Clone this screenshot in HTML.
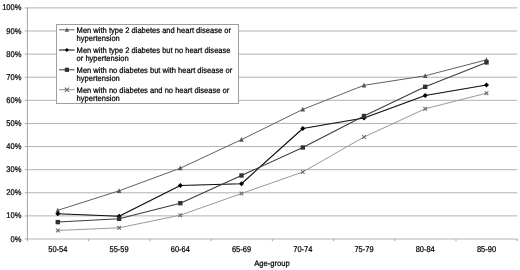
<!DOCTYPE html>
<html><head><meta charset="utf-8"><title>Chart</title>
<style>
html,body{margin:0;padding:0;background:#fff;}
body{width:520px;height:270px;overflow:hidden;}
svg{display:block;}
text{font-family:"Liberation Sans",sans-serif;fill:#000;stroke:#000;stroke-width:0.24px;text-rendering:geometricPrecision;}
</style></head><body>
<svg width="520" height="270" viewBox="0 0 520 270">
<defs><filter id="soft" x="-2%" y="-2%" width="104%" height="104%"><feGaussianBlur stdDeviation="0.32"/></filter><filter id="soft2" x="-2%" y="-2%" width="104%" height="104%"><feGaussianBlur stdDeviation="0.18"/></filter></defs>
<rect width="520" height="270" fill="#ffffff"/>
<g filter="url(#soft2)">
<line x1="27.4" y1="215.89" x2="517.2" y2="215.89" stroke="#b2b2b2" stroke-width="1"/>
<line x1="27.4" y1="192.78" x2="517.2" y2="192.78" stroke="#b2b2b2" stroke-width="1"/>
<line x1="27.4" y1="169.67" x2="517.2" y2="169.67" stroke="#b2b2b2" stroke-width="1"/>
<line x1="27.4" y1="146.56" x2="517.2" y2="146.56" stroke="#b2b2b2" stroke-width="1"/>
<line x1="27.4" y1="123.45" x2="517.2" y2="123.45" stroke="#b2b2b2" stroke-width="1"/>
<line x1="27.4" y1="100.34" x2="517.2" y2="100.34" stroke="#b2b2b2" stroke-width="1"/>
<line x1="27.4" y1="77.23" x2="517.2" y2="77.23" stroke="#b2b2b2" stroke-width="1"/>
<line x1="27.4" y1="54.12" x2="517.2" y2="54.12" stroke="#b2b2b2" stroke-width="1"/>
<line x1="27.4" y1="31.01" x2="517.2" y2="31.01" stroke="#b2b2b2" stroke-width="1"/>
<line x1="27.4" y1="7.90" x2="517.2" y2="7.90" stroke="#b2b2b2" stroke-width="1"/>
</g>
<g filter="url(#soft)">
<line x1="27.4" y1="7.9" x2="27.4" y2="239.0" stroke="#a4a4a4" stroke-width="1"/>
<line x1="27.4" y1="239.0" x2="517.2" y2="239.0" stroke="#b2b2b2" stroke-width="1"/>
<line x1="24.799999999999997" y1="239.00" x2="27.4" y2="239.00" stroke="#a6a6a6" stroke-width="1"/>
<line x1="24.799999999999997" y1="215.89" x2="27.4" y2="215.89" stroke="#a6a6a6" stroke-width="1"/>
<line x1="24.799999999999997" y1="192.78" x2="27.4" y2="192.78" stroke="#a6a6a6" stroke-width="1"/>
<line x1="24.799999999999997" y1="169.67" x2="27.4" y2="169.67" stroke="#a6a6a6" stroke-width="1"/>
<line x1="24.799999999999997" y1="146.56" x2="27.4" y2="146.56" stroke="#a6a6a6" stroke-width="1"/>
<line x1="24.799999999999997" y1="123.45" x2="27.4" y2="123.45" stroke="#a6a6a6" stroke-width="1"/>
<line x1="24.799999999999997" y1="100.34" x2="27.4" y2="100.34" stroke="#a6a6a6" stroke-width="1"/>
<line x1="24.799999999999997" y1="77.23" x2="27.4" y2="77.23" stroke="#a6a6a6" stroke-width="1"/>
<line x1="24.799999999999997" y1="54.12" x2="27.4" y2="54.12" stroke="#a6a6a6" stroke-width="1"/>
<line x1="24.799999999999997" y1="31.01" x2="27.4" y2="31.01" stroke="#a6a6a6" stroke-width="1"/>
<line x1="24.799999999999997" y1="7.90" x2="27.4" y2="7.90" stroke="#a6a6a6" stroke-width="1"/>
<line x1="27.40" y1="239.0" x2="27.40" y2="241.2" stroke="#a6a6a6" stroke-width="1"/>
<line x1="88.62" y1="239.0" x2="88.62" y2="241.2" stroke="#a6a6a6" stroke-width="1"/>
<line x1="149.85" y1="239.0" x2="149.85" y2="241.2" stroke="#a6a6a6" stroke-width="1"/>
<line x1="211.08" y1="239.0" x2="211.08" y2="241.2" stroke="#a6a6a6" stroke-width="1"/>
<line x1="272.30" y1="239.0" x2="272.30" y2="241.2" stroke="#a6a6a6" stroke-width="1"/>
<line x1="333.53" y1="239.0" x2="333.53" y2="241.2" stroke="#a6a6a6" stroke-width="1"/>
<line x1="394.75" y1="239.0" x2="394.75" y2="241.2" stroke="#a6a6a6" stroke-width="1"/>
<line x1="455.98" y1="239.0" x2="455.98" y2="241.2" stroke="#a6a6a6" stroke-width="1"/>
<line x1="517.20" y1="239.0" x2="517.20" y2="241.2" stroke="#a6a6a6" stroke-width="1"/>
<text transform="translate(21.40,241.60) scale(0.9050,1)" font-size="8.3" text-anchor="end">0%</text>
<text transform="translate(21.40,218.49) scale(0.9050,1)" font-size="8.3" text-anchor="end">10%</text>
<text transform="translate(21.40,195.38) scale(0.9050,1)" font-size="8.3" text-anchor="end">20%</text>
<text transform="translate(21.40,172.27) scale(0.9050,1)" font-size="8.3" text-anchor="end">30%</text>
<text transform="translate(21.40,149.16) scale(0.9050,1)" font-size="8.3" text-anchor="end">40%</text>
<text transform="translate(21.40,126.05) scale(0.9050,1)" font-size="8.3" text-anchor="end">50%</text>
<text transform="translate(21.40,102.94) scale(0.9050,1)" font-size="8.3" text-anchor="end">60%</text>
<text transform="translate(21.40,79.83) scale(0.9050,1)" font-size="8.3" text-anchor="end">70%</text>
<text transform="translate(21.40,56.72) scale(0.9050,1)" font-size="8.3" text-anchor="end">80%</text>
<text transform="translate(21.40,33.61) scale(0.9050,1)" font-size="8.3" text-anchor="end">90%</text>
<text transform="translate(21.40,10.10) scale(0.9050,1)" font-size="8.3" text-anchor="end">100%</text>
<text transform="translate(57.80,252.30) scale(0.8900,1)" font-size="8.4" text-anchor="middle">50-54</text>
<text transform="translate(119.10,252.30) scale(0.8900,1)" font-size="8.4" text-anchor="middle">55-59</text>
<text transform="translate(180.30,252.30) scale(0.8900,1)" font-size="8.4" text-anchor="middle">60-64</text>
<text transform="translate(241.50,252.30) scale(0.8900,1)" font-size="8.4" text-anchor="middle">65-69</text>
<text transform="translate(302.80,252.30) scale(0.8900,1)" font-size="8.4" text-anchor="middle">70-74</text>
<text transform="translate(364.00,252.30) scale(0.8900,1)" font-size="8.4" text-anchor="middle">75-79</text>
<text transform="translate(425.20,252.30) scale(0.8900,1)" font-size="8.4" text-anchor="middle">80-84</text>
<text transform="translate(486.50,252.30) scale(0.8900,1)" font-size="8.4" text-anchor="middle">85-90</text>
<text transform="translate(272.00,265.70) scale(0.9450,1)" font-size="8.1" text-anchor="middle">Age-group</text>
<polyline points="57.80,210.30 119.10,190.80 180.30,168.20 241.50,139.60 302.80,109.40 364.00,85.30 425.20,75.80 486.50,59.80" fill="none" stroke="#606060" stroke-width="1.0" stroke-linejoin="round"/>
<polyline points="57.80,213.80 119.10,216.20 180.30,185.50 241.50,183.70 302.80,128.50 364.00,118.00 425.20,95.50 486.50,85.00" fill="none" stroke="#0a0a0a" stroke-width="1.15" stroke-linejoin="round"/>
<polyline points="57.80,222.10 119.10,218.80 180.30,203.20 241.50,175.50 302.80,147.50 364.00,116.00 425.20,86.80 486.50,62.40" fill="none" stroke="#3c3c3c" stroke-width="1.05" stroke-linejoin="round"/>
<polyline points="57.80,230.50 119.10,227.80 180.30,215.20 241.50,193.50 302.80,172.00 364.00,137.00 425.20,108.80 486.50,93.20" fill="none" stroke="#929292" stroke-width="0.95" stroke-linejoin="round"/>
<path d="M57.80,207.70 L60.10,212.40 L55.50,212.40 Z" fill="#555555"/>
<path d="M119.10,188.20 L121.40,192.90 L116.80,192.90 Z" fill="#555555"/>
<path d="M180.30,165.60 L182.60,170.30 L178.00,170.30 Z" fill="#555555"/>
<path d="M241.50,137.00 L243.80,141.70 L239.20,141.70 Z" fill="#555555"/>
<path d="M302.80,106.80 L305.10,111.50 L300.50,111.50 Z" fill="#555555"/>
<path d="M364.00,82.70 L366.30,87.40 L361.70,87.40 Z" fill="#555555"/>
<path d="M425.20,73.20 L427.50,77.90 L422.90,77.90 Z" fill="#555555"/>
<path d="M486.50,57.20 L488.80,61.90 L484.20,61.90 Z" fill="#555555"/>
<path d="M57.80,211.30 L60.30,213.80 L57.80,216.30 L55.30,213.80 Z" fill="#000000"/>
<path d="M119.10,213.70 L121.60,216.20 L119.10,218.70 L116.60,216.20 Z" fill="#000000"/>
<path d="M180.30,183.00 L182.80,185.50 L180.30,188.00 L177.80,185.50 Z" fill="#000000"/>
<path d="M241.50,181.20 L244.00,183.70 L241.50,186.20 L239.00,183.70 Z" fill="#000000"/>
<path d="M302.80,126.00 L305.30,128.50 L302.80,131.00 L300.30,128.50 Z" fill="#000000"/>
<path d="M364.00,115.50 L366.50,118.00 L364.00,120.50 L361.50,118.00 Z" fill="#000000"/>
<path d="M425.20,93.00 L427.70,95.50 L425.20,98.00 L422.70,95.50 Z" fill="#000000"/>
<path d="M486.50,82.50 L489.00,85.00 L486.50,87.50 L484.00,85.00 Z" fill="#000000"/>
<rect x="55.60" y="219.90" width="4.40" height="4.40" fill="#333333"/>
<rect x="116.90" y="216.60" width="4.40" height="4.40" fill="#333333"/>
<rect x="178.10" y="201.00" width="4.40" height="4.40" fill="#333333"/>
<rect x="239.30" y="173.30" width="4.40" height="4.40" fill="#333333"/>
<rect x="300.60" y="145.30" width="4.40" height="4.40" fill="#333333"/>
<rect x="361.80" y="113.80" width="4.40" height="4.40" fill="#333333"/>
<rect x="423.00" y="84.60" width="4.40" height="4.40" fill="#333333"/>
<rect x="484.30" y="60.20" width="4.40" height="4.40" fill="#333333"/>
<path d="M56.00,228.70 L59.60,232.30 M56.00,232.30 L59.60,228.70" stroke="#6c6c6c" stroke-width="1.1" fill="none"/>
<path d="M117.30,226.00 L120.90,229.60 M117.30,229.60 L120.90,226.00" stroke="#6c6c6c" stroke-width="1.1" fill="none"/>
<path d="M178.50,213.40 L182.10,217.00 M178.50,217.00 L182.10,213.40" stroke="#6c6c6c" stroke-width="1.1" fill="none"/>
<path d="M239.70,191.70 L243.30,195.30 M239.70,195.30 L243.30,191.70" stroke="#6c6c6c" stroke-width="1.1" fill="none"/>
<path d="M301.00,170.20 L304.60,173.80 M301.00,173.80 L304.60,170.20" stroke="#6c6c6c" stroke-width="1.1" fill="none"/>
<path d="M362.20,135.20 L365.80,138.80 M362.20,138.80 L365.80,135.20" stroke="#6c6c6c" stroke-width="1.1" fill="none"/>
<path d="M423.40,107.00 L427.00,110.60 M423.40,110.60 L427.00,107.00" stroke="#6c6c6c" stroke-width="1.1" fill="none"/>
<path d="M484.70,91.40 L488.30,95.00 M484.70,95.00 L488.30,91.40" stroke="#6c6c6c" stroke-width="1.1" fill="none"/>
<rect x="56.5" y="24.5" width="182.0" height="79.0" fill="#ffffff" stroke="#9e9e9e" stroke-width="1"/>
<line x1="59" y1="29.80" x2="74.6" y2="29.80" stroke="#606060" stroke-width="1"/>
<path d="M66.90,27.40 L69.00,31.70 L64.80,31.70 Z" fill="#555555"/>
<text transform="translate(76.60,32.80) scale(0.9320,1)" font-size="8.1" text-anchor="start">Men with type 2 diabetes and heart disease or</text>
<text transform="translate(76.60,41.30) scale(0.9320,1)" font-size="8.1" text-anchor="start">hypertension</text>
<line x1="59" y1="50.00" x2="74.6" y2="50.00" stroke="#0a0a0a" stroke-width="1"/>
<path d="M66.90,47.90 L69.00,50.00 L66.90,52.10 L64.80,50.00 Z" fill="#000000"/>
<text transform="translate(76.60,52.80) scale(0.9320,1)" font-size="8.1" text-anchor="start">Men with type 2 diabetes but no heart disease</text>
<text transform="translate(76.60,61.30) scale(0.9320,1)" font-size="8.1" text-anchor="start">or hypertension</text>
<line x1="59" y1="69.80" x2="74.6" y2="69.80" stroke="#3c3c3c" stroke-width="1"/>
<rect x="64.80" y="67.70" width="4.20" height="4.20" fill="#333333"/>
<text transform="translate(76.60,72.80) scale(0.9320,1)" font-size="8.1" text-anchor="start">Men with no diabetes but with heart disease or</text>
<text transform="translate(76.60,81.30) scale(0.9320,1)" font-size="8.1" text-anchor="start">hypertension</text>
<line x1="59" y1="89.70" x2="74.6" y2="89.70" stroke="#929292" stroke-width="1"/>
<path d="M64.80,87.60 L69.00,91.80 M64.80,91.80 L69.00,87.60" stroke="#6c6c6c" stroke-width="1.1" fill="none"/>
<text transform="translate(76.60,92.60) scale(0.9320,1)" font-size="8.1" text-anchor="start">Men with no diabetes and no heart disease or</text>
<text transform="translate(76.60,101.10) scale(0.9320,1)" font-size="8.1" text-anchor="start">hypertension</text>
</g></svg></body></html>
